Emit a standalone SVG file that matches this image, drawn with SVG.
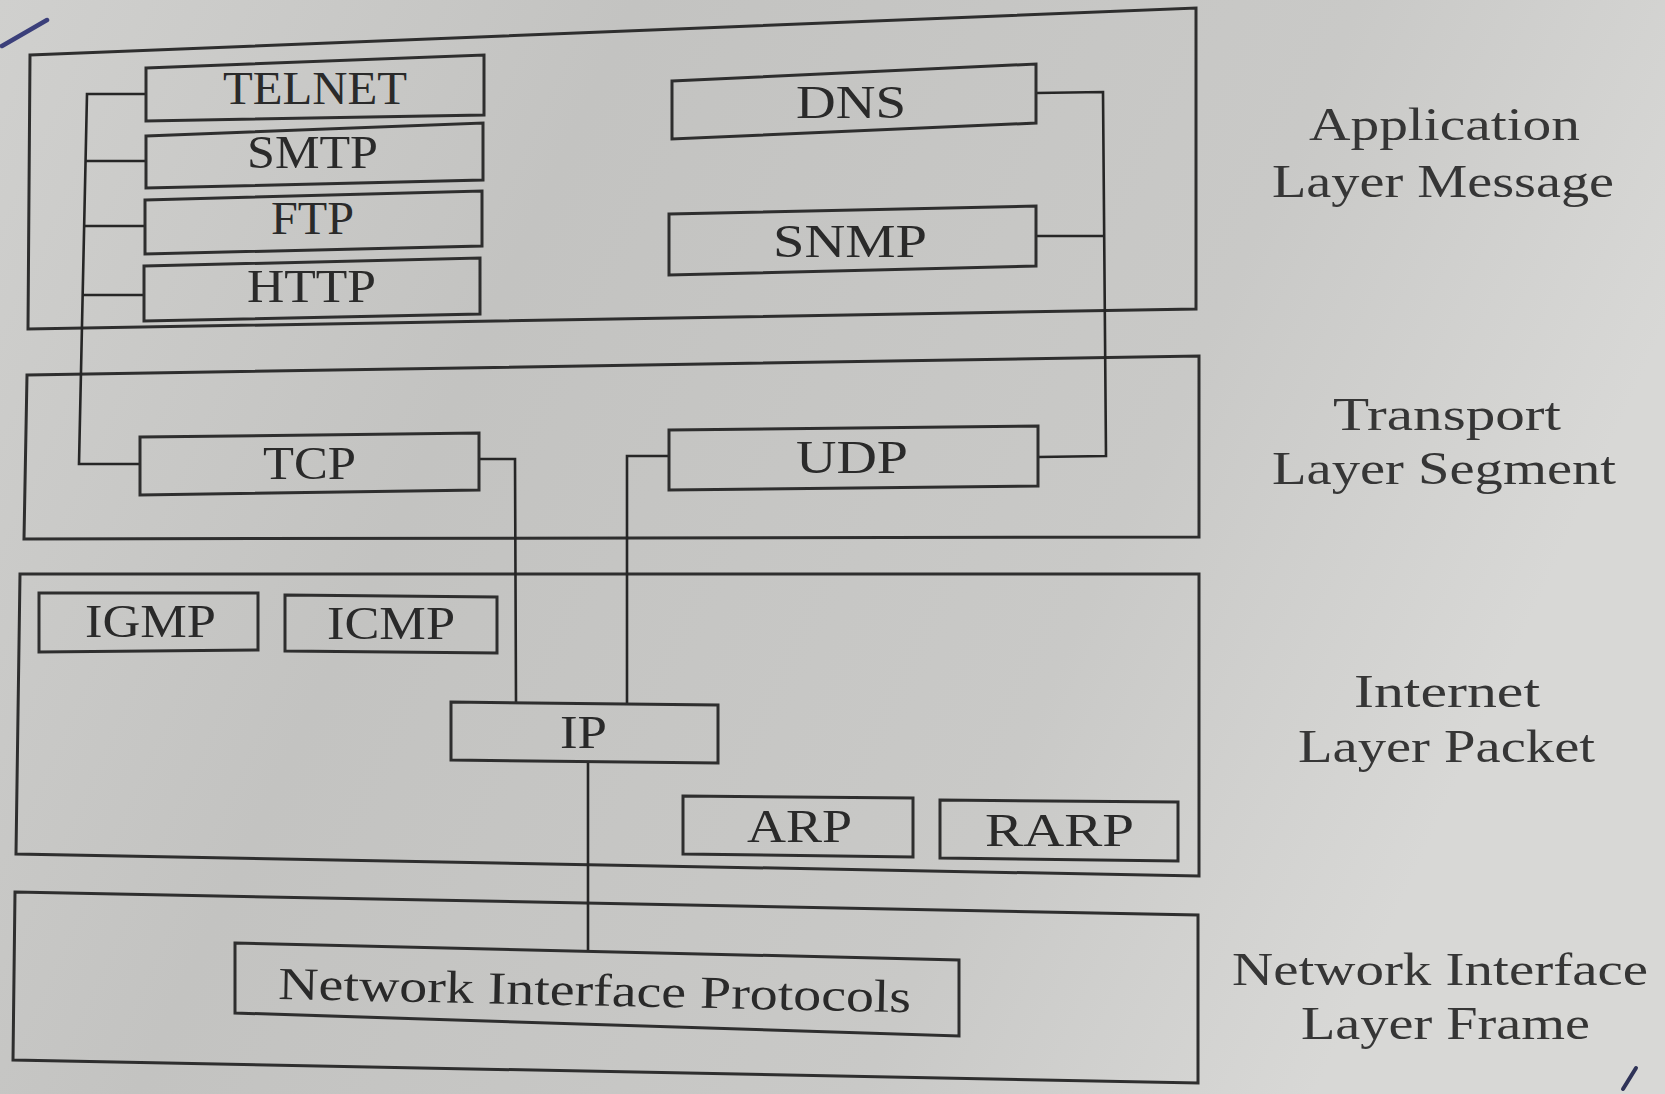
<svg xmlns="http://www.w3.org/2000/svg" width="1665" height="1094" viewBox="0 0 1665 1094">
<defs>
<linearGradient id="bg" x1="0" y1="0" x2="1" y2="0.3">
<stop offset="0" stop-color="#d0d0ce"/>
<stop offset="0.35" stop-color="#c3c3c1"/>
<stop offset="0.75" stop-color="#c9c9c7"/>
<stop offset="1" stop-color="#d8d8d6"/>
</linearGradient>
<style>
.frame{fill:none;stroke:#2e2e2e;stroke-width:3;stroke-linejoin:miter}
.box{fill:none;stroke:#2e2e2e;stroke-width:3}
.conn{fill:none;stroke:#262626;stroke-width:2.6}
.lbl{font-family:"Liberation Serif","Times New Roman",serif;font-size:46px;fill:#2a2a2a}
.side{font-family:"Liberation Serif","Times New Roman",serif;font-size:46px;fill:#363636}
</style>
</defs>
<rect x="0" y="0" width="1665" height="1094" fill="url(#bg)"/>

<g id="layer-application">
<polygon class="frame" points="30,55 1196,8 1196,309 28,329"/>
</g>
<g id="layer-transport">
<polygon class="frame" points="27,375 1199,356 1199,537 24,539"/>
</g>
<g id="layer-internet">
<polygon class="frame" points="20,574 1199,574 1199,876 16,854"/>
</g>
<g id="layer-network">
<polygon class="frame" points="15,892 1198,915 1198,1083 13,1060"/>
</g>

<g id="connectors">
<polyline class="conn" points="146,94 87,94 79,464 140,464"/>
<line class="conn" x1="86" y1="161" x2="146" y2="161"/>
<line class="conn" x1="85" y1="226" x2="145" y2="226"/>
<line class="conn" x1="83" y1="295" x2="144" y2="295"/>
<polyline class="conn" points="479,459 515,459 516,702"/>
<polyline class="conn" points="1036,93 1103,92 1106,456 1038,457"/>
<line class="conn" x1="1036" y1="236" x2="1104" y2="236"/>
<polyline class="conn" points="669,456 627,456 627,703"/>
<line class="conn" x1="588" y1="761" x2="588" y2="950"/>
</g>

<g id="node-telnet">
<polygon class="box" points="146,68 484,55 484,115 146,121"/>
<text class="lbl" x="223" y="104" textLength="184" lengthAdjust="spacingAndGlyphs">TELNET</text>
</g>
<g id="node-smtp">
<polygon class="box" points="146,136 483,123 483,180 146,188"/>
<text class="lbl" x="247" y="168" textLength="131" lengthAdjust="spacingAndGlyphs">SMTP</text>
</g>
<g id="node-ftp">
<polygon class="box" points="145,200 482,191 482,246 145,254"/>
<text class="lbl" x="271" y="234" textLength="83" lengthAdjust="spacingAndGlyphs">FTP</text>
</g>
<g id="node-http">
<polygon class="box" points="144,266 480,258 480,314 144,321"/>
<text class="lbl" x="247" y="302" textLength="129" lengthAdjust="spacingAndGlyphs">HTTP</text>
</g>
<g id="node-dns">
<polygon class="box" points="672,81 1036,64 1036,123 672,139"/>
<text class="lbl" x="796" y="118" textLength="110" lengthAdjust="spacingAndGlyphs">DNS</text>
</g>
<g id="node-snmp">
<polygon class="box" points="669,214 1036,206 1036,266 669,275"/>
<text class="lbl" x="773" y="257" textLength="154" lengthAdjust="spacingAndGlyphs">SNMP</text>
</g>
<g id="node-tcp">
<polygon class="box" points="140,437 479,433 479,490 140,495"/>
<text class="lbl" x="263" y="479" textLength="93" lengthAdjust="spacingAndGlyphs">TCP</text>
</g>
<g id="node-udp">
<polygon class="box" points="669,430 1038,426 1038,486 669,490"/>
<text class="lbl" x="796" y="473" textLength="112" lengthAdjust="spacingAndGlyphs">UDP</text>
</g>
<g id="node-igmp">
<polygon class="box" points="39,593 258,593 258,650 39,652"/>
<text class="lbl" x="85" y="637" textLength="131" lengthAdjust="spacingAndGlyphs">IGMP</text>
</g>
<g id="node-icmp">
<polygon class="box" points="285,595 497,597 497,653 285,651"/>
<text class="lbl" x="327" y="639" textLength="128" lengthAdjust="spacingAndGlyphs">ICMP</text>
</g>
<g id="node-ip">
<polygon class="box" points="451,702 718,705 718,763 451,760"/>
<text class="lbl" x="560" y="748" textLength="47" lengthAdjust="spacingAndGlyphs">IP</text>
</g>
<g id="node-arp">
<polygon class="box" points="683,796 913,798 913,857 683,854"/>
<text class="lbl" x="747" y="842" textLength="105" lengthAdjust="spacingAndGlyphs">ARP</text>
</g>
<g id="node-rarp">
<polygon class="box" points="940,800 1178,802 1178,861 940,858"/>
<text class="lbl" x="985" y="846" textLength="149" lengthAdjust="spacingAndGlyphs">RARP</text>
</g>
<g id="node-nip">
<polygon class="box" points="235,943 959,960 959,1036 235,1013"/>
<text class="lbl" x="278" y="999" textLength="633" lengthAdjust="spacingAndGlyphs" transform="rotate(1.2 278 999)">Network Interface Protocols</text>
</g>

<g id="side-labels">
<text class="side" x="1309" y="140" textLength="271" lengthAdjust="spacingAndGlyphs">Application</text>
<text class="side" x="1272" y="197" textLength="342" lengthAdjust="spacingAndGlyphs">Layer Message</text>
<text class="side" x="1333" y="430" textLength="228" lengthAdjust="spacingAndGlyphs">Transport</text>
<text class="side" x="1272" y="484" textLength="344" lengthAdjust="spacingAndGlyphs">Layer Segment</text>
<text class="side" x="1354" y="707" textLength="186" lengthAdjust="spacingAndGlyphs">Internet</text>
<text class="side" x="1298" y="762" textLength="297" lengthAdjust="spacingAndGlyphs">Layer Packet</text>
<text class="side" x="1232" y="985" textLength="416" lengthAdjust="spacingAndGlyphs">Network Interface</text>
<text class="side" x="1301" y="1039" textLength="289" lengthAdjust="spacingAndGlyphs">Layer Frame</text>
</g>

<g id="pen-marks">
<path d="M2,46 L47,20" stroke="#3b3f7a" stroke-width="4.5" fill="none" stroke-linecap="round"/>
<path d="M1623,1089 L1636,1068" stroke="#2f3358" stroke-width="4" fill="none" stroke-linecap="round"/>
</g>
</svg>
